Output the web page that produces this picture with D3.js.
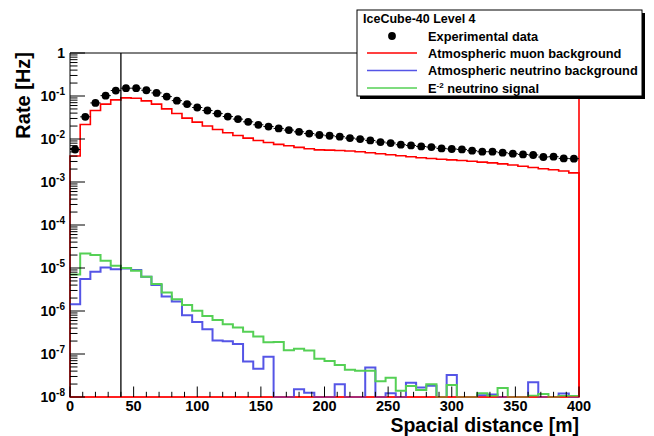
<!DOCTYPE html>
<html><head><meta charset="utf-8">
<script src="https://cdn.jsdelivr.net/npm/d3@7"></script>
<style>body{margin:0;background:#fff}svg{display:block}text{font-family:"Liberation Sans",Arial,sans-serif;font-weight:bold}</style>
</head><body><svg id="c" width="654" height="436"></svg>
<script>
// ---- data ----
const binWidth = 8;
const nBins = 50;
const expData = [0.0057,0.0328,0.069,0.102,0.134,0.152,0.152,0.136,0.118,0.097,
 0.078,0.065,0.054,0.046,0.039,0.0333,0.029,0.0251,0.0214,0.0195,
 0.0176,0.0161,0.0147,0.0134,0.0124,0.0119,0.0113,0.0105,0.00997,0.00925,
 0.0085,0.00806,0.00736,0.00709,0.00672,0.0065,0.00604,0.00585,0.00573,0.00534,
 0.00506,0.00506,0.0048,0.00455,0.00438,0.00425,0.00381,0.00388,0.00354,0.00348];
const muonBg = [0.00403,0.0217,0.0459,0.0646,0.0813,0.0905,0.089,0.077,0.0646,0.0503,
 0.0391,0.0306,0.0247,0.02,0.0166,0.014,0.0121,0.0105,0.00925,0.00832,
 0.00748,0.00697,0.00637,0.00594,0.0056,0.0055,0.0054,0.00526,0.00506,0.0048,
 0.00455,0.00431,0.00409,0.00388,0.00367,0.00352,0.00339,0.00327,0.00315,0.00303,
 0.0029,0.00278,0.00264,0.00249,0.00233,0.00218,0.00204,0.00192,0.0018,0.00163];
const nuBg = [1.43e-6,5.53e-6,8.2e-6,1.03e-5,9.4e-6,9.8e-6,8.95e-6,6.3e-6,4.02e-6,2.16e-6,
 1.66e-6,7.97e-7,5.57e-7,3.77e-7,2.07e-7,1.99e-7,1.7e-7,6.73e-8,4.53e-8,8.6e-8,
 0,0,1.51e-8,1.26e-8,0,0,1.97e-8,0,0,4.88e-8,
 0,1.22e-8,0,2.15e-8,1.66e-8,1.83e-8,0,3.24e-8,0,0,
 1.1e-8,1.15e-8,0,0,0,2.2e-8,0,0,1.2e-8,0];
const signal = [7.1e-6,2.18e-5,2.0e-5,1.48e-5,1.13e-5,9.96e-6,8.67e-6,6.3e-6,4.24e-6,2.68e-6,
 1.87e-6,1.38e-6,1.02e-6,7.67e-7,6.2e-7,4.93e-7,4.13e-7,3.27e-7,2.56e-7,1.88e-7,
 1.91e-7,1.23e-7,1.32e-7,1.21e-7,7.73e-8,6.84e-8,5.52e-8,4.3e-8,4.07e-8,4.07e-8,
 2.31e-8,2.8e-8,1.4e-8,1.8e-8,1.45e-8,1.97e-8,0,1.9e-8,0,0,
 1.22e-8,1.05e-8,1.62e-8,0,0,1.07e-8,1.17e-8,0,1.05e-8,1.05e-8];
const xTickLabels = ["0","50","100","150","200","250","300","350","400"];
const yTickExponents = [-8,-7,-6,-5,-4,-3,-2,-1,0];
const cutValue = 40;
const legendTitle = "IceCube-40 Level 4";
const legendNames = ["Experimental data","Atmospheric muon background","Atmospheric neutrino background","neutrino signal"];
const xTitle = "Spacial distance [m]";
const yTitle = "Rate [Hz]";

// ---- layout ----
const L = 70, R = 579, T = 53, B = 397;
const svg = d3.select("#c");
const x = d3.scaleLinear().domain([0, 400]).range([L, R]);
const y = d3.scaleLog().domain([1e-8, 1]).range([B, T]);
const yc = v => y(Math.max(v, 1e-8));
const COL = {red:"#ff0000", blue:"#5555e6", green:"#55d055"};

function stepPts(vals){
  const pts = vals.map((v,i)=>[i*binWidth, v]);
  pts.push([nBins*binWidth, vals[vals.length-1]]);
  return pts;
}
const stepLine = d3.line().x(d=>x(d[0])).y(d=>yc(d[1])).curve(d3.curveStepAfter);

// frame top line
svg.append("line").attr("x1",L).attr("x2",R).attr("y1",T).attr("y2",T).attr("stroke","#000");

// muon background (closed to baseline)
{
  const pts = stepPts(muonBg);
  const d = "M" + x(0) + "," + B + "L" + stepLine(pts).slice(1) + "L" + x(400) + "," + B + "Z";
  svg.append("path").attr("d", d).attr("fill","none").attr("stroke",COL.red).attr("stroke-width",1.6);
}
svg.append("path").attr("d", stepLine(stepPts(nuBg))).attr("fill","none").attr("stroke",COL.blue).attr("stroke-width",2);
svg.append("path").attr("d", stepLine(stepPts(signal))).attr("fill","none").attr("stroke",COL.green).attr("stroke-width",2);

// right border (red)
svg.append("line").attr("x1",R).attr("x2",R).attr("y1",T).attr("y2",B).attr("stroke",COL.red).attr("stroke-width",1.6);

// data points
const gp = svg.append("g");
expData.forEach((v,i)=>{
  gp.append("line").attr("x1",x(i*binWidth)).attr("x2",x((i+1)*binWidth)).attr("y1",y(v)).attr("y2",y(v)).attr("stroke","#000");
  gp.append("circle").attr("cx",x((i+0.5)*binWidth)).attr("cy",y(v)).attr("r",3.9).attr("fill","#000");
});

// cut line
svg.append("line").attr("x1",x(cutValue)).attr("x2",x(cutValue)).attr("y1",T).attr("y2",B).attr("stroke","#000").attr("stroke-width",1.3);

// axes
const ax = svg.append("g");
ax.append("line").attr("x1",L).attr("x2",L).attr("y1",T).attr("y2",B).attr("stroke","#000");
ax.append("line").attr("x1",L).attr("x2",R).attr("y1",B).attr("y2",B).attr("stroke",COL.red).attr("stroke-width",1.2);
// y ticks
yTickExponents.forEach(e=>{
  const v = Math.pow(10,e);
  ax.append("line").attr("x1",L).attr("x2",L+15).attr("y1",y(v)).attr("y2",y(v)).attr("stroke","#000");
  if (e < 0) for (let k=2;k<=9;k++){
    const m = k*v;
    ax.append("line").attr("x1",L).attr("x2",L+7.5).attr("y1",y(m)).attr("y2",y(m)).attr("stroke","#000");
  }
  const t = ax.append("text").attr("x",65).attr("y",y(v)+5).attr("text-anchor","end").attr("font-size",14);
  if (e === 0) t.text("1");
  else { t.append("tspan").text("10"); t.append("tspan").attr("dy",-6).attr("font-size",10).text(String(e)); }
});
// x ticks
d3.range(0, 401, 10).forEach(v=>{
  const major = v % 50 === 0;
  ax.append("line").attr("x1",x(v)).attr("x2",x(v)).attr("y1",B).attr("y2",B-(major?10.5:5.2)).attr("stroke","#000");
});
xTickLabels.forEach(s=>{
  ax.append("text").attr("x",x(+s)).attr("y",410.5).attr("text-anchor","middle").attr("font-size",14.5).text(s);
});
svg.append("text").attr("x",R).attr("y",431.8).attr("text-anchor","end").attr("font-size",19.5).text(xTitle);
svg.append("text").attr("transform","translate(30,52) rotate(-90)").attr("text-anchor","end").attr("font-size",20).text(yTitle);

// legend
const lg = svg.append("g");
const LX0 = 357, LY0 = 10, LX1 = 642, LY1 = 96;
lg.append("rect").attr("x",LX0+3).attr("y",LY0+3).attr("width",LX1-LX0).attr("height",LY1-LY0).attr("fill","#000");
lg.append("rect").attr("x",LX0).attr("y",LY0).attr("width",LX1-LX0).attr("height",LY1-LY0).attr("fill","#fff").attr("stroke","#000");
lg.append("text").attr("x",363).attr("y",23).attr("font-size",12.5).text(legendTitle);
const rowY = [36, 53, 70.5, 88];
lg.append("circle").attr("cx",392).attr("cy",rowY[0]).attr("r",3.9).attr("fill","#000");
[[COL.red,1],[COL.blue,2],[COL.green,3]].forEach(([c,i])=>{
  lg.append("line").attr("x1",367).attr("x2",417).attr("y1",rowY[i]).attr("y2",rowY[i]).attr("stroke",c).attr("stroke-width",1.5);
});
legendNames.forEach((n,i)=>{
  const t = lg.append("text").attr("x",428).attr("y",rowY[i]+4.5).attr("font-size",12.8);
  if (i===3){ t.append("tspan").text("E"); t.append("tspan").attr("dy",-5).attr("font-size",8).text("-2"); t.append("tspan").attr("dy",5).text(" "+n); }
  else t.text(n);
});
</script></body></html>
